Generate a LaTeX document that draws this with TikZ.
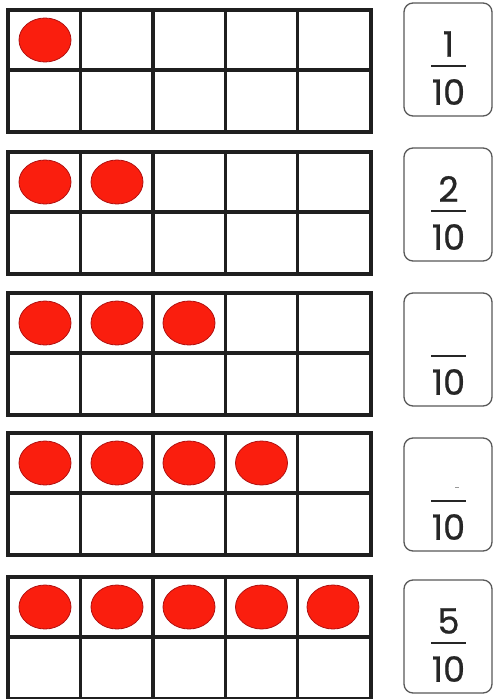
\documentclass[tikz,border=0pt]{standalone}
\usepackage{fontspec}
\newfontfamily\digitfont{Poppins}[FakeBold=0.7]
\definecolor{dotred}{HTML}{FA1E0E}
\definecolor{dotedge}{HTML}{B01010}
\begin{document}
\begin{tikzpicture}[x=1pt,y=-1pt,
  gridline/.style={line width=3.8pt, draw=black!88, line cap=rect},
  counter/.style={fill=dotred, draw=dotedge, line width=0.8pt},
  fracbox/.style={draw=black!65, line width=1.3pt, rounded corners=9pt},
  fracbar/.style={draw=black!85, line width=2pt},
  digit/.style={font=\digitfont\fontsize{35}{35}\selectfont, inner sep=0pt, text=black!85}]
\useasboundingbox (0,0) rectangle (494,699);
\fill[white] (0,0) rectangle (494,699);
% ten frames
\foreach \i/\n/\t in {1/1/10, 2/2/152, 3/3/293, 4/4/433, 5/5/577}{
  \foreach \k [count=\c] in {45,117,189,261.5,333}{
    \ifnum\c>\n\else
      \filldraw[counter] (\k,{\t+30}) ellipse [x radius=26, y radius=22];
    \fi
  }
  \draw[gridline] (8,\t) rectangle (371,{\t+122});
  \draw[gridline] (8,{\t+60}) -- (371,{\t+60});
  \foreach \x in {80.5,153,225.5,297.5}{
    \draw[gridline] (\x,\t) -- (\x,{\t+122});
  }
}
% fraction cards
\foreach \i/\b in {1/3, 2/148, 3/293, 4/438, 5/580}{
  \draw[fracbox] (404,\b) rectangle (492,{\b+113});
  \draw[fracbar] (431,{\b+63}) -- (466,{\b+63});
  \node[digit] (den\i) at (448.5,{\b+89}) {10};
}
\node[digit] (num1) at (448.5,44) {1};
\node[digit] (num2) at (448.5,189) {2};
\node[digit] (num5) at (448.5,621) {5};
\fill[black!40] (455,486.5) rectangle (459,488);
\end{tikzpicture}
\end{document}
